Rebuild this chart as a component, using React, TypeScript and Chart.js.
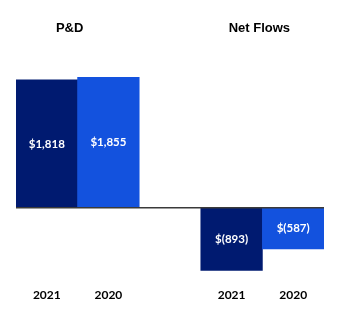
import React, { useEffect, useRef } from "react";
import { Chart, registerables } from "chart.js";

Chart.register(...registerables);

const categories = ["2021", "2020", "", "2021", "2020"];
const values = [1818, 1855, null, -893, -587];
const valueLabels = ["$1,818", "$1,855", "", "$(893)", "$(587)"];
const groupTitles = ["P&D", "Net Flows"];
const barColors = ["#001A70", "#1352DE", "rgba(0,0,0,0)", "#001A70", "#1352DE"];

const overlayPlugin = {
  id: "overlay",
  afterDatasetsDraw(chart: any) {
    const { ctx, chartArea, scales } = chart;
    const y = scales.y;
    const x = scales.x;
    const zeroY = y.getPixelForValue(0);
    ctx.save();
    // zero line
    ctx.strokeStyle = "#3a3a3a";
    ctx.lineWidth = 1.5;
    ctx.beginPath();
    ctx.moveTo(chartArea.left, zeroY);
    ctx.lineTo(chartArea.right, zeroY);
    ctx.stroke();

    // value labels
    const meta = chart.getDatasetMeta(0);
    ctx.fillStyle = "#ffffff";
    ctx.font = "bold 11.5px Lato";
    ctx.textAlign = "center";
    ctx.textBaseline = "middle";
    meta.data.forEach((bar: any, i: number) => {
      if (values[i] == null) return;
      const props = bar.getProps(["x", "y", "base"], true);
      ctx.fillText(valueLabels[i], props.x, (props.y + props.base) / 2);
    });

    // group titles
    ctx.fillStyle = "#000000";
    ctx.font = "bold 13px 'Liberation Sans', Arial";
    const c1 = (x.getPixelForValue(0) + x.getPixelForValue(1)) / 2 - 8;
    const c2 = (x.getPixelForValue(3) + x.getPixelForValue(4)) / 2 - 3;
    ctx.fillText(groupTitles[0], c1, 28);
    ctx.fillText(groupTitles[1], c2, 28);
    ctx.restore();
  },
};

export default function App() {
  const ref = useRef<HTMLCanvasElement | null>(null);
  useEffect(() => {
    if (!ref.current) return;
    const chart = new Chart(ref.current, {
      type: "bar",
      data: {
        labels: categories,
        datasets: [
          {
            data: values as any,
            backgroundColor: barColors,
            barPercentage: 1,
            categoryPercentage: 1,
          },
        ],
      },
      options: {
        animation: false,
        responsive: false,
        maintainAspectRatio: false,
        layout: { padding: { top: 32, left: 16, right: 16, bottom: 20 } },
        plugins: { legend: { display: false }, tooltip: { enabled: false } },
        scales: {
          x: {
            grid: { display: false },
            border: { display: false },
            afterFit: (scale: any) => {
              scale.height = 30;
            },
            ticks: {
              color: "#000000",
              padding: 2,
              maxRotation: 0,
              font: { family: "Lato", weight: "bold", size: 12 },
            },
          },
          y: {
            display: false,
            min: -1000,
            max: 2500,
          },
        },
      },
      plugins: [overlayPlugin],
    });
    return () => chart.destroy();
  }, []);
  return (
    <div style={{ position: "absolute", left: 0, top: 0, width: 340, height: 328, background: "#fff" }}>
      <canvas ref={ref} width={340} height={328} style={{ width: 340, height: 328 }} />
    </div>
  );
}
